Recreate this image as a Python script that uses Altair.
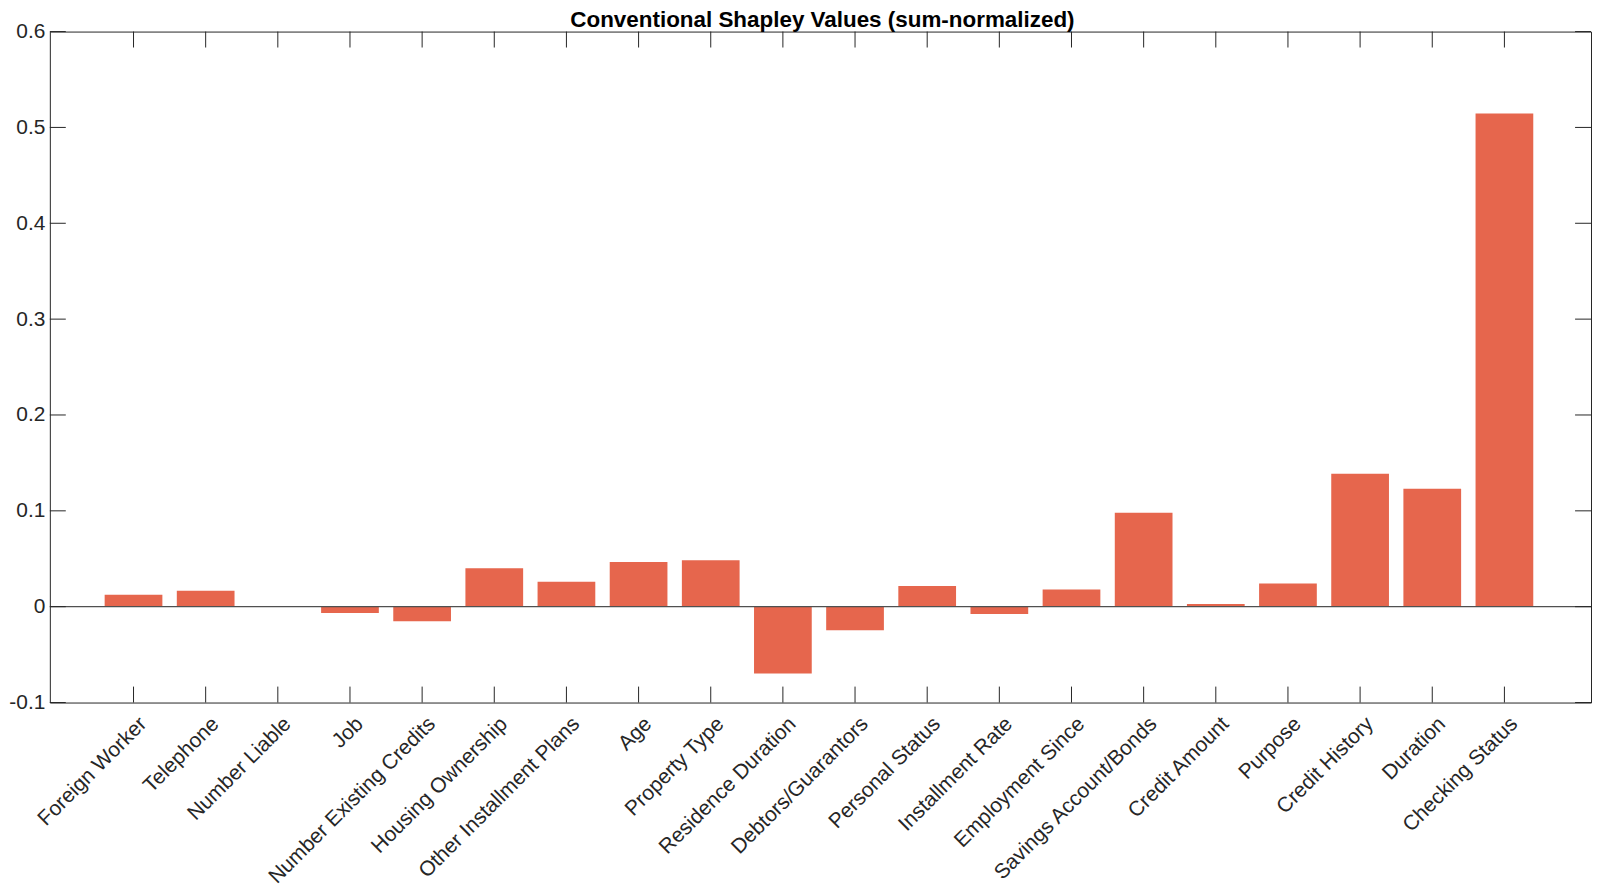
import altair as alt
import pandas as pd

title_text = ["Conventional Shapley Values (sum-normalized)"]
features = ["Foreign Worker", "Telephone", "Number Liable", "Job",
            "Number Existing Credits", "Housing Ownership",
            "Other Installment Plans", "Age", "Property Type",
            "Residence Duration", "Debtors/Guarantors", "Personal Status",
            "Installment Rate", "Employment Since", "Savings Account/Bonds",
            "Credit Amount", "Purpose", "Credit History", "Duration",
            "Checking Status"]
values = [0.0124, 0.0166, 0.0006, -0.0065, -0.0152, 0.0401, 0.0259, 0.0466,
          0.0484, -0.0697, -0.0245, 0.0215, -0.0076, 0.0180, 0.0981, 0.0028,
          0.0242, 0.1386, 0.1230, 0.5144]
y_ticks = [-0.1, 0, 0.1, 0.2, 0.3, 0.4, 0.5, 0.6]

W = 1547
H = 673.5
TL = 16
AX = "#262626"
FONT = "Liberation Sans"

df = pd.DataFrame({"feature": features, "value": values})
yt = pd.DataFrame({"value": y_ticks})
zero = pd.DataFrame({"value": [0]})
tdf = pd.DataFrame({"t": title_text})

xscale = alt.Scale(domain=features, paddingInner=0.2, paddingOuter=0.78,
                   align=0.487)
yscale = alt.Scale(domain=[-0.1, 0.6], nice=False, zero=False)

label_expr = ("datum.value < 0 ? '-' + format(abs(datum.value), '.1f') : "
              "(datum.value == 0 ? '0' : format(datum.value, '.1f'))")

xaxis = alt.Axis(labelAngle=315, labelAlign="right",
                 labelBaseline="middle", labelFontSize=21,
                 labelFont=FONT, labelColor=AX, tickSize=0,
                 domain=False, labelPadding=18, labelOffset=10,
                 labelOverlap=False, labelLimit=400, title=None)
yaxis = alt.Axis(values=y_ticks, labelExpr=label_expr,
                 labelFontSize=21, labelFont=FONT, labelColor=AX,
                 tickSize=0, domain=False, grid=False,
                 labelPadding=5, title=None)

X = alt.X("feature:N", sort=features, scale=xscale, axis=xaxis)
Y = alt.Y("value:Q", scale=yscale, axis=yaxis)

bars = alt.Chart(df).mark_bar(color="#E6664D").encode(x=X, y=Y)

base_line = alt.Chart(zero).mark_rule(color="#505050", strokeWidth=1.3).encode(
    y=Y,
)

ytick_left = alt.Chart(yt).mark_rule(color=AX, strokeWidth=1).encode(
    y=Y, x=alt.value(0), x2=alt.value(TL),
)
ytick_right = alt.Chart(yt).mark_rule(color=AX, strokeWidth=1).encode(
    y=Y, x=alt.value(W - TL), x2=alt.value(W),
)
xtick_top = alt.Chart(df).mark_rule(color=AX, strokeWidth=1).encode(
    x=X, y=alt.value(0), y2=alt.value(TL),
)
xtick_bottom = alt.Chart(df).mark_rule(color=AX, strokeWidth=1).encode(
    x=X, y=alt.value(H - TL), y2=alt.value(H),
)

title = alt.Chart(tdf).mark_text(
    font=FONT, fontSize=22.5, fontWeight="bold", color="#000000",
    baseline="alphabetic", align="center"
).encode(
    text="t:N", x=alt.value(W / 2 + 2), y=alt.value(-5),
)

chart = alt.layer(
    bars, base_line, ytick_left, ytick_right, xtick_top, xtick_bottom, title
).properties(
    width=W, height=H,
    autosize=alt.AutoSizeParams(type="none"),
    padding={"left": 42, "top": 22, "right": 3, "bottom": 184},
    background="white",
).configure_view(
    stroke=AX, strokeWidth=1
)

chart.save("out.html", embed_options={"renderer": "svg", "actions": False})
